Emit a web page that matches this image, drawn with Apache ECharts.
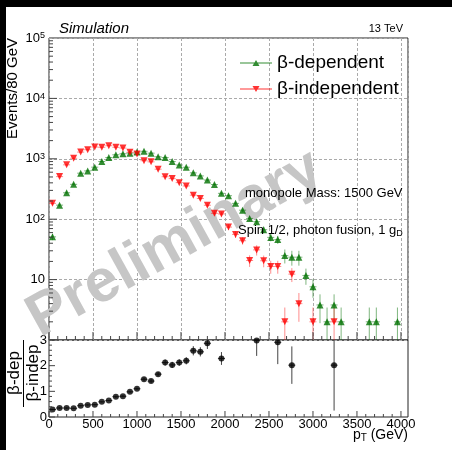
<!DOCTYPE html>
<html><head><meta charset="utf-8">
<script src="https://cdn.jsdelivr.net/npm/echarts@6/dist/echarts.min.js"></script>
<style>html,body{margin:0;padding:0;background:#fff}#c{width:452px;height:450px}</style>
</head><body><div id="c"></div>
<script>
// ---- data ----
const pT = [40,120,200,280,360,440,520,600,680,760,840,920,1000,1080,1160,1240,1320,1400,1480,1560,1640,1720,1800,1880,1960,2040,2120,2200,2280,2360,2440,2520,2600,2680,2760,2840,2920,3000,3080,3160,3240,3320,3400,3480,3560,3640,3720,3800,3880,3960,4040];
const betaDep = [51,171,274,378,578,631,727,902,1050,1166,1211,1240,1290,1330,1240,1080,1050,902,790,725,585,521,445,375,268,245,183,141,103,91,67,50,46,25,23.5,23.5,11.7,7.6,3.8,2,3.8,2,null,null,null,2,2,null,null,2,null];
const betaDepErr = [6,11,14,17,21,22,24,27,29,31,31,32,32,33,32,30,29,27,25,24,22,20,19,17,15,14,12,11,9,9,8,7,7,6.5,6.5,6.5,3.5,2.6,1.9,1.45,1.9,1.45,null,null,null,1.45,1.45,null,null,1.45,null];
const betaIndep = [183,507,794,1020,1290,1413,1567,1550,1648,1550,1507,1280,1200,930,890,673,505,470,403,355,250,220,170,125,122,74,56,44,20.7,31,20.5,16.5,16.5,2,12.3,4,null,2,null,null,2,null,null,null,null,null,null,null,null,null,null];
const betaIndepErr = [12,20,26,29,33,34,36,36,37,36,35,32,31,27,27,23,20,19,18,17,14,13,12,10,10,8,7,6,4.5,6,4.5,4,4,1.45,3.2,2,null,1.45,null,null,1.45,null,null,null,null,null,null,null,null,null,null];
const ratio = [0.29,0.35,0.35,0.34,0.44,0.47,0.48,0.59,0.64,0.79,0.81,0.98,1.10,1.47,1.40,1.67,2.12,2.03,2.12,2.19,2.58,2.54,2.87,null,2.28,null,null,null,null,2.98,null,null,2.91,null,2.02,null,null,null,null,null,2.02,null,null,null,null,null,null,null,null,null,null];
const ratioErr = [0.02,0.02,0.02,0.02,0.02,0.02,0.02,0.02,0.02,0.04,0.04,0.04,0.04,0.07,0.07,0.08,0.12,0.12,0.13,0.14,0.18,0.18,0.22,null,0.25,null,null,null,null,0.6,null,null,0.85,null,0.73,null,null,null,null,null,1.77,null,null,null,null,null,null,null,null,null,null];
const xTickValues = [0,500,1000,1500,2000,2500,3000,3500,4000];
const xTickLabels = ['0','500','1000','1500','2000','2500','3000','3500','4000'];
const yTickValues = [1,10,100,1000,10000,100000];
const yTickLabels = ['1','10','10^2','10^3','10^4','10^5'];
const rTickValues = [0,1,2,3];
const rTickLabels = ['0','1','2','3'];

// ---- styling ----
const FONT = '"Liberation Sans", Arial, Helvetica, sans-serif';
const GREEN = '#007000', RED = '#ff0000';
const GREEN_ERR = 'rgba(0,112,0,0.5)', RED_ERR = 'rgba(255,0,0,0.45)';

function pairs(vals){ const o=[]; vals.forEach((v,i)=>{ if(v!=null) o.push([pT[i], v]); }); return o; }
function triples(vals, errs){ const o=[]; vals.forEach((v,i)=>{ if(v!=null) o.push([pT[i], v, errs[i]]); }); return o; }

function errRender(color, floor){
  return function(params, api){
    const x=api.value(0), v=api.value(1), e=api.value(2);
    const a=api.coord([x, Math.max(v-e, floor)]), b=api.coord([x, v+e]);
    const l=api.coord([x-40, v]), r=api.coord([x+40, v]);
    return {type:'group', children:[
      {type:'line', shape:{x1:a[0],y1:a[1],x2:b[0],y2:b[1]}, style:{stroke:color, lineWidth:1}},
      {type:'line', shape:{x1:l[0],y1:l[1],x2:r[0],y2:r[1]}, style:{stroke:color, lineWidth:1}}
    ]};
  };
}
function ln(x1,y1,x2,y2){ return {type:'line', shape:{x1,y1,x2,y2}, style:{stroke:'#444', lineWidth:1}}; }
function topTicks(params, api){
  const ch=[];
  for (let t=0; t<=4000; t+=100){ const p=api.coord([t,1]); ch.push(ln(p[0],p[1],p[0],p[1]-(t%500===0?8:4))); }
  for (let d=1; d<100000; d*=10){ for (let m=1; m<=9; m++){ const p=api.coord([0,d*m]); ch.push(ln(p[0],p[1],p[0]+(m===1?8:4),p[1])); } }
  return {type:'group', children:ch};
}
function ratioTicks(params, api){
  const ch=[];
  for (let t=0; t<=4000; t+=100){ const p=api.coord([t,0]); ch.push(ln(p[0],p[1],p[0],p[1]-(t%500===0?6:3))); }
  for (let k=0; k<=15; k++){ const v=k*0.2; const p=api.coord([0,v]); ch.push(ln(p[0],p[1],p[0]+(k%5===0?6:3),p[1])); }
  return {type:'group', children:ch};
}

const chart = echarts.init(document.getElementById('c'), null, {renderer:'canvas', width:452, height:450});
const gridLine = {show:true, lineStyle:{color:'#aaa', type:[3,2], width:1}};

chart.setOption({
  backgroundColor:'#fff',
  animation:false,
  grid:[
    {left:49, top:38, width:359, height:302, show:true, borderColor:'#222', borderWidth:1, backgroundColor:'transparent'},
    {left:49, top:340, width:359, height:77, show:true, borderColor:'#222', borderWidth:1, backgroundColor:'transparent'}
  ],
  xAxis:[
    {type:'value', gridIndex:0, min:0, max:4080, interval:500, axisLine:{show:false}, axisTick:{show:false}, axisLabel:{show:false}, splitLine:gridLine},
    {type:'value', gridIndex:1, min:0, max:4080, interval:500, axisLine:{show:false}, axisTick:{show:false}, splitLine:{show:false},
      axisLabel:{margin:1, color:'#000', fontSize:13, fontFamily:FONT,
        formatter:(v)=>{ const i=xTickValues.indexOf(v); return i>=0?xTickLabels[i]:''; }}}
  ],
  yAxis:[
    {type:'log', gridIndex:0, min:1, max:100000, logBase:10, axisLine:{show:false}, axisTick:{show:false}, splitLine:gridLine,
      axisLabel:{margin:4, color:'#000', fontFamily:FONT,
        formatter:(v)=>{ const i=yTickValues.findIndex(t=>Math.abs(t-v)<1e-6*t); if(i<=0) return ''; const s=yTickLabels[i].split('^'); return s.length>1?'{b|'+s[0]+'}{p|'+s[1]+'}':'{b|'+s[0]+'}'; },
        rich:{b:{fontSize:13, fontFamily:FONT, color:'#000', lineHeight:13, padding:[4,0,0,0], verticalAlign:'bottom'},
              p:{fontSize:9, fontFamily:FONT, color:'#000', lineHeight:9, verticalAlign:'top'}}}},
    {type:'value', gridIndex:1, min:0, max:3, interval:1, axisLine:{show:false}, axisTick:{show:false}, splitLine:{show:false},
      axisLabel:{margin:2, color:'#000', fontSize:13, fontFamily:FONT,
        formatter:(v)=>{ const i=rTickValues.indexOf(v); return i>=0?rTickLabels[i]:''; }}}
  ],
  legend:{orient:'vertical', left:235, top:48, itemWidth:32, itemHeight:10, itemGap:6,
    textStyle:{fontSize:19, fontFamily:FONT, color:'#000', lineHeight:20},
    data:[
      {name:'β-dependent', icon:'path://M0,4.5H32V5.5H0Z M12.5,8L16,2L19.5,8Z'},
      {name:'β-independent', icon:'path://M0,4.5H32V5.5H0Z M12.5,2L19.5,2L16,8Z'}
    ]},
  series:[
    {name:'β-dependent', type:'scatter', xAxisIndex:0, yAxisIndex:0, z:4, symbol:'triangle', symbolSize:7, itemStyle:{color:GREEN}, data:pairs(betaDep)},
    {name:'β-independent', type:'scatter', xAxisIndex:0, yAxisIndex:0, z:4, symbol:'triangle', symbolRotate:180, symbolSize:7, itemStyle:{color:RED}, data:pairs(betaIndep)},
    {name:'β-dependent', type:'custom', xAxisIndex:0, yAxisIndex:0, z:3, clip:true, renderItem:errRender(GREEN_ERR, 0.1), encode:{x:0,y:1}, data:triples(betaDep, betaDepErr), silent:true},
    {name:'β-independent', type:'custom', xAxisIndex:0, yAxisIndex:0, z:3, clip:true, renderItem:errRender(RED_ERR, 0.1), encode:{x:0,y:1}, data:triples(betaIndep, betaIndepErr), silent:true},
    {name:'ratio', type:'custom', xAxisIndex:1, yAxisIndex:1, z:3, clip:true, renderItem:errRender('#444', -1), encode:{x:0,y:1}, data:triples(ratio, ratioErr), silent:true},
    {name:'ratio', type:'scatter', xAxisIndex:1, yAxisIndex:1, z:4, clip:true, symbol:'circle', symbolSize:6, itemStyle:{color:'#000'}, data:pairs(ratio)},
    {name:'ticksTop', type:'custom', xAxisIndex:0, yAxisIndex:0, z:5, clip:false, silent:true, renderItem:topTicks, data:[[2000,100]]},
    {name:'ticksRatio', type:'custom', xAxisIndex:1, yAxisIndex:1, z:5, clip:false, silent:true, renderItem:ratioTicks, data:[[2000,1]]}
  ],
  graphic:[
    {type:'rect', z:100, shape:{x:0,y:0,width:6,height:450}, style:{fill:'#000'}},
    {type:'rect', z:100, shape:{x:0,y:0,width:452,height:7}, style:{fill:'#000'}},
    {type:'text', z:1, x:175, y:244, rotation:29*Math.PI/180, style:{text:'Preliminary', font:'bold 60px '+FONT, fill:'#c6c6c6', textAlign:'center', textVerticalAlign:'middle'}},
    {type:'text', z:10, x:59, y:29, style:{text:'Simulation', font:'italic 15px '+FONT, fill:'#000', textVerticalAlign:'middle'}},
    {type:'text', z:10, x:403, y:29, style:{text:'13 TeV', font:'11px '+FONT, fill:'#000', textAlign:'right', textVerticalAlign:'middle'}},
    {type:'text', z:10, x:245, y:193, style:{text:'monopole Mass: 1500 GeV', font:'13px '+FONT, fill:'#000', textVerticalAlign:'middle'}},
    {type:'text', z:10, x:238, y:231, style:{text:'{a|Spin 1/2, photon fusion, 1 g}{s|D}', textVerticalAlign:'middle',
      rich:{a:{fontSize:13, fontFamily:FONT, fill:'#000', color:'#000', lineHeight:14, verticalAlign:'top'},
            s:{fontSize:9, fontFamily:FONT, color:'#000', lineHeight:9, padding:[8,0,0,0], verticalAlign:'bottom'}}}},
    {type:'text', z:10, x:13, y:38, rotation:Math.PI/2, style:{text:'Events/80 GeV', font:'15px '+FONT, fill:'#000', textAlign:'right', textVerticalAlign:'middle'}},
    {type:'text', z:10, x:14, y:373, rotation:Math.PI/2, style:{text:'β-dep', font:'17px '+FONT, fill:'#000', textAlign:'center', textVerticalAlign:'middle'}},
    {type:'text', z:10, x:33, y:373, rotation:Math.PI/2, style:{text:'β-indep', font:'17px '+FONT, fill:'#000', textAlign:'center', textVerticalAlign:'middle'}},
    {type:'line', z:10, shape:{x1:23.5,y1:340,x2:23.5,y2:407}, style:{stroke:'#000', lineWidth:1}},
    {type:'text', z:10, x:408, y:436, style:{text:'{a|p}{s|T}{a| (GeV)}', textAlign:'right', textVerticalAlign:'middle',
      rich:{a:{fontSize:14, fontFamily:FONT, color:'#000', lineHeight:15, verticalAlign:'top'},
            s:{fontSize:10, fontFamily:FONT, color:'#000', lineHeight:10, padding:[8,0,0,0], verticalAlign:'bottom'}}}}
  ]
});
</script></body></html>
